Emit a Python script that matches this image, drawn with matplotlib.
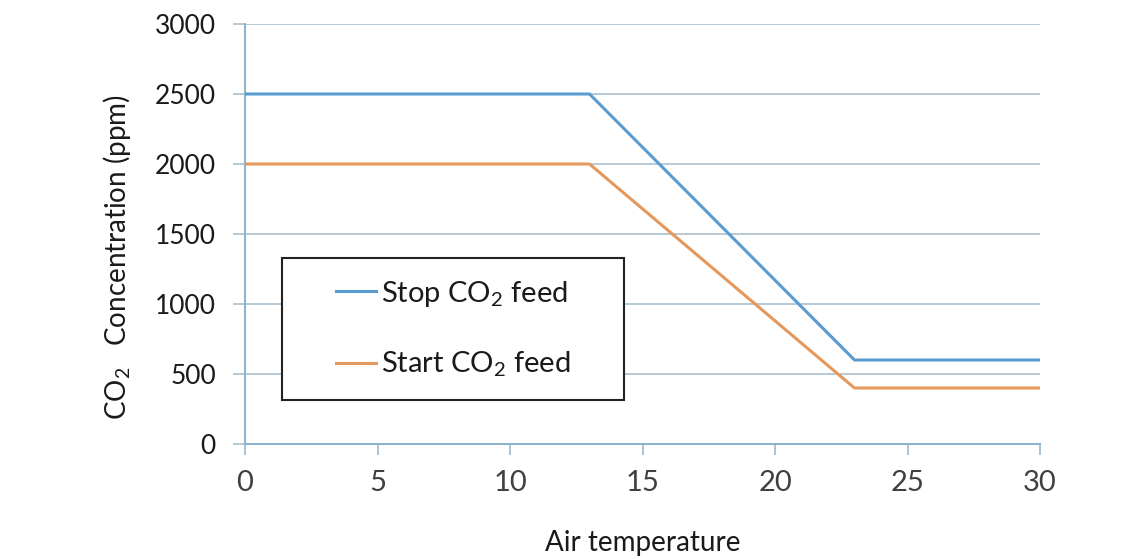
import matplotlib
matplotlib.use("Agg")
import matplotlib.pyplot as plt
from matplotlib.patches import Rectangle

# Data
temp = [0, 13, 23, 30]
stop_feed = [2500, 2500, 600, 600]
start_feed = [2000, 2000, 400, 400]
x_ticks = [0, 5, 10, 15, 20, 25, 30]
y_ticks = [0, 500, 1000, 1500, 2000, 2500, 3000]

plt.rcParams['font.family'] = ['Lato', 'DejaVu Sans']
plt.rcParams['mathtext.fontset'] = 'custom'
plt.rcParams['mathtext.rm'] = 'Lato'

fig = plt.figure(figsize=(11.43, 5.59), dpi=100)
W, H = 1143, 559
ax = fig.add_axes([245 / W, 1 - 444 / H, (1040 - 245) / W, (444 - 24) / H])

blue = '#5A9BD0'
orange = '#E5985C'
grid_c = '#A3BBCA'
axis_c = '#8FB4D0'

ax.plot(temp, stop_feed, color=blue, lw=2.2, label=r'Stop CO$\mathregular{_2}$ feed', zorder=3)
ax.plot(temp, start_feed, color=orange, lw=2.2, label=r'Start CO$\mathregular{_2}$ feed', zorder=3)

ax.set_xlim(0, 30)
ax.set_ylim(0, 3000)
ax.set_xticks(x_ticks)
ax.set_yticks(y_ticks)
ax.grid(axis='y', color=grid_c, lw=1.1, zorder=1)

for s in ['top', 'right']:
    ax.spines[s].set_visible(False)
for s in ['left', 'bottom']:
    ax.spines[s].set_color(axis_c)
    ax.spines[s].set_linewidth(1.5)

ax.tick_params(axis='y', length=9, width=1.1, color=grid_c, pad=12,
               labelsize=19, labelcolor='#1a1a1a')
ax.tick_params(axis='x', length=8, width=1.1, color=axis_c, pad=11,
               labelsize=21, labelcolor='#404040')

ax.set_ylabel(r'CO$\mathregular{_2}$   Concentration (ppm)', fontsize=20,
              color='#1a1a1a', va='center')
ax.yaxis.set_label_coords(-0.161, 0.445)
ax.set_xlabel('Air temperature', fontsize=20, color='#1a1a1a', va='center')
ax.xaxis.set_label_coords(0.5, -0.235)

# legend frame
x0 = (282 - 245) / 795
x1 = (624 - 245) / 795
y0 = (444 - 400) / 420
y1 = (444 - 258) / 420
ax.add_patch(Rectangle((x0, y0), x1 - x0, y1 - y0, transform=ax.transAxes,
                       facecolor='white', edgecolor='#222222', lw=1.5, zorder=4))
leg = ax.legend(loc='center', bbox_to_anchor=((x0 + x1) / 2, (y0 + y1) / 2),
                frameon=False, fontsize=21, handlelength=1.4, handletextpad=0.15,
                labelspacing=1.42)
for t in leg.get_texts():
    t.set_color('#1a1a1a')
leg.set_zorder(5)

fig.savefig('out.png', dpi=100)
